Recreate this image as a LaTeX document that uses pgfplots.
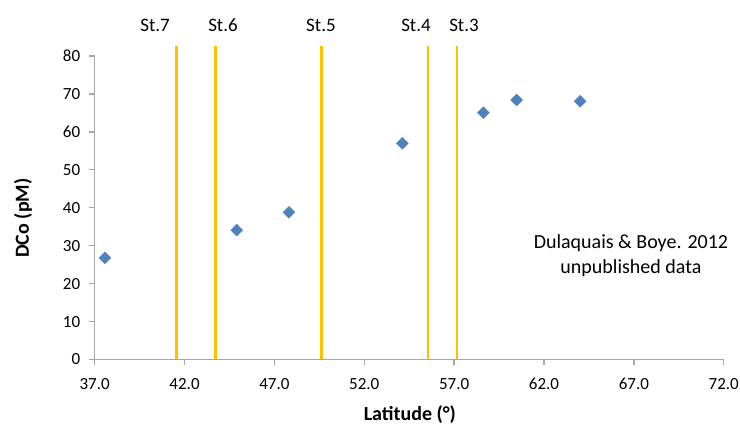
\documentclass[border=0pt]{standalone}
\usepackage{fontspec}
\setmainfont{Carlito}
\usepackage{pgfplots}
\pgfplotsset{compat=1.18}
\definecolor{ptblue}{HTML}{4F81BD}
\definecolor{stline}{HTML}{FFC000}
\definecolor{axgray}{HTML}{A6A6A6}
\begin{document}
\begin{tikzpicture}
\begin{axis}[name=ax, scale only axis, width=629pt, height=303.5pt,
  xmin=37, xmax=72, ymin=0, ymax=80,
  axis x line*=bottom, axis y line*=left,
  axis line style={axgray, line width=1.3pt, -},
  xtick={37,42,47,52,57,62,67,72}, ytick={0,10,...,80},
  tick align=outside, major tick length=6pt,
  tick style={axgray, line width=1.3pt},
  x tick label style={yshift=-9pt, /pgf/number format/.cd, fixed, fixed zerofill, precision=1, assume math mode=true},
  y tick label style={xshift=-5pt, /pgf/number format/assume math mode=true},
  ticklabel style={font=\fontsize{17}{20}\selectfont, text=black},
  clip=false]
\addplot[stline, line width=2.7pt] coordinates {(41.54,0) (41.54,82.7)};
\addplot[stline, line width=2.7pt] coordinates {(43.71,0) (43.71,82.7)};
\addplot[stline, line width=2.7pt] coordinates {(49.63,0) (49.63,82.7)};
\addplot[stline, line width=2.7pt] coordinates {(55.55,0) (55.55,82.7)};
\addplot[stline, line width=2.7pt] coordinates {(57.16,0) (57.16,82.7)};
\addplot[only marks, mark=square*, mark size=4.2pt, mark options={rotate=45, fill=ptblue, draw=ptblue}] coordinates {
(37.57,26.8) (44.90,34.1) (47.81,38.8) (54.12,57.0) (58.63,65.05) (60.48,68.4) (64.01,68.05)};
\node[font=\fontsize{19}{22}\selectfont] at (axis cs:40.36,88.0) {St.7};
\node[font=\fontsize{19}{22}\selectfont] at (axis cs:44.14,88.0) {St.6};
\node[font=\fontsize{19}{22}\selectfont] at (axis cs:49.59,88.0) {St.5};
\node[font=\fontsize{19}{22}\selectfont] at (axis cs:54.88,88.0) {St.4};
\node[font=\fontsize{19}{22}\selectfont] at (axis cs:57.55,88.0) {St.3};
\node[font=\fontsize{20}{25}\selectfont, align=center] at (axis cs:66.84,27.4) {Dulaquais \& Boye. 2012\\unpublished data};
\node[font=\bfseries\fontsize{20}{24}\selectfont, rotate=90] at (axis description cs:-0.114,0.466) {DCo (pM)};
\node[font=\bfseries\fontsize{20}{24}\selectfont] at (axis description cs:0.501,-0.183) {Latitude (°)};
\end{axis}
\pgfresetboundingbox
\path ([xshift=-94.7pt,yshift=-72.5pt]ax.south west) rectangle ([xshift=16.3pt,yshift=56pt]ax.north east);
\end{tikzpicture}
\end{document}
